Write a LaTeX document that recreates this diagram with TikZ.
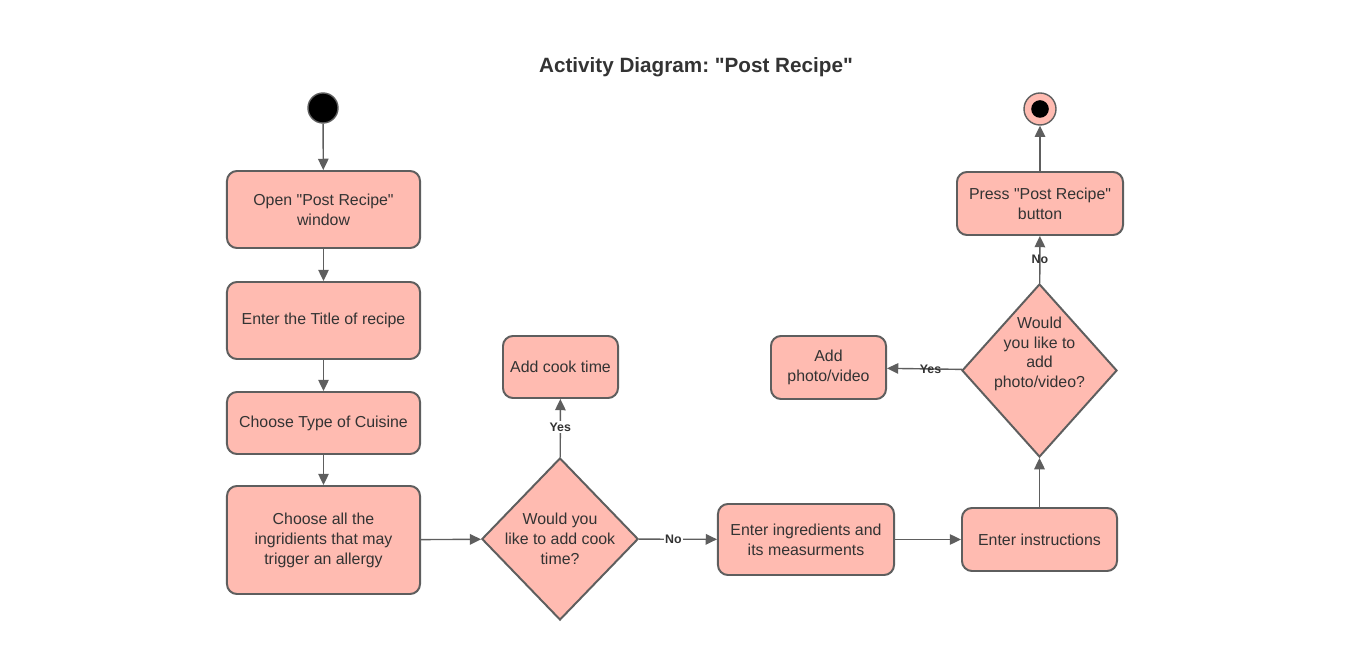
\documentclass[tikz,border=0pt]{standalone}
\usepackage{fontspec}
\setmainfont{Liberation Sans}
\frenchspacing
\usepackage{xcolor}
\definecolor{mpink}{HTML}{FFBBB1}
\definecolor{mgrey}{HTML}{5E5E5E}
\definecolor{mtext}{HTML}{333333}
\usepackage{tikz}
\usetikzlibrary{shapes.geometric,arrows.meta}

\begin{document}
\begin{tikzpicture}[x=0.025cm, y=-0.025cm,
    actbox/.style={draw=mgrey, line width=1.4pt, fill=mpink, rounded corners=0.25cm,
        align=center, text=mtext, inner sep=0pt,
        font=\fontsize{11.3}{14.2}\selectfont},
    decision/.style={diamond, draw=mgrey, line width=1.4pt, fill=mpink, align=center,
        text=mtext, inner sep=-1pt, font=\fontsize{11.3}{14.2}\selectfont},
    flow/.style={draw=mgrey, line width=1pt, -{Triangle[length=8pt, width=7.5pt]}},
    yesno/.style={font=\bfseries\fontsize{8.8}{10}\selectfont, text=mtext, inner sep=1pt}]
            \useasboundingbox (0, 0) rectangle (1350, 668);
            \node[font=\bfseries\fontsize{14.7}{17}\selectfont, text=mtext] (title) at (696, 67) {Activity Diagram: \textquotedbl Post Recipe\textquotedbl};
            % left column
            \node[circle, fill=black, draw=mgrey, line width=1pt, minimum size=0.75cm, inner sep=0pt] (start) at (323, 108) {};
            \node[actbox, minimum width=4.825cm, minimum height=1.925cm] (open) at (323.5, 209.5) {Open \textquotedbl Post Recipe\textquotedbl\\window};
            \node[actbox, minimum width=4.825cm, minimum height=1.925cm] (enter) at (323.5, 320.5) {Enter the Title of recipe};
            \node[actbox, minimum width=4.825cm, minimum height=1.55cm] (cuisine) at (323.5, 423) {Choose Type of Cuisine};
            \node[actbox, minimum width=4.825cm, minimum height=2.7cm] (allergy) at (323.5, 540) {Choose all the\\ingridients that may\\trigger an allergy};
            % middle
            \node[decision, minimum width=3.9cm, minimum height=4.05cm] (cookq) at (560, 539) {Would you\\like to add cook\\time?};
            \node[actbox, minimum width=2.875cm, minimum height=1.55cm] (cook) at (560.5, 367) {Add cook time};
            \node[actbox, minimum width=4.4cm, minimum height=1.775cm] (ingr) at (806, 539.5) {Enter ingredients and\\its measurments};
            % right column
            \node[actbox, minimum width=3.875cm, minimum height=1.575cm] (instr) at (1039.5, 539.5) {Enter instructions};
            \node[decision, minimum width=3.875cm, minimum height=4.325cm] (photoq) at (1039.5, 370.5)
                {\raisebox{9pt}[0pt][0pt]{\begin{tabular}{@{}c@{}}Would\\you like to\\add\\photo/video?\end{tabular}}};
            \node[actbox, minimum width=2.875cm, minimum height=1.575cm] (photo) at (828.5, 367.5) {Add\\photo/video};
            \node[actbox, minimum width=4.15cm, minimum height=1.575cm] (press) at (1040, 203.5) {Press \textquotedbl Post Recipe\textquotedbl\\button};
            \node[circle, fill=mpink, draw=mgrey, line width=1pt, minimum size=0.8cm, inner sep=0pt,
                path picture={\fill[black] (path picture bounding box.center) circle (0.22cm);}] (stop) at (1040, 109) {};

            \draw[flow] (start) -- (open);
            \draw[flow] (open) -- (enter);
            \draw[flow] (enter) -- (cuisine);
            \draw[flow] (cuisine) -- (allergy);
            \draw[flow] (allergy) -- (cookq);
            \draw[flow] (cookq) -- node[yesno, fill=white, pos=0.52] {Yes} (cook);
            \draw[flow] (cookq) -- node[yesno, fill=white, pos=0.44] {No} (ingr);
            \draw[flow] (ingr) -- (instr);
            \draw[flow] (instr) -- (photoq);
            \draw[flow] (photoq) -- node[yesno, pos=0.42] {Yes} (photo);
            \draw[flow] (photoq) -- node[yesno, pos=0.5] {No} (press);
            \draw[flow] (press) -- (stop);
        \end{tikzpicture}
\end{document}
